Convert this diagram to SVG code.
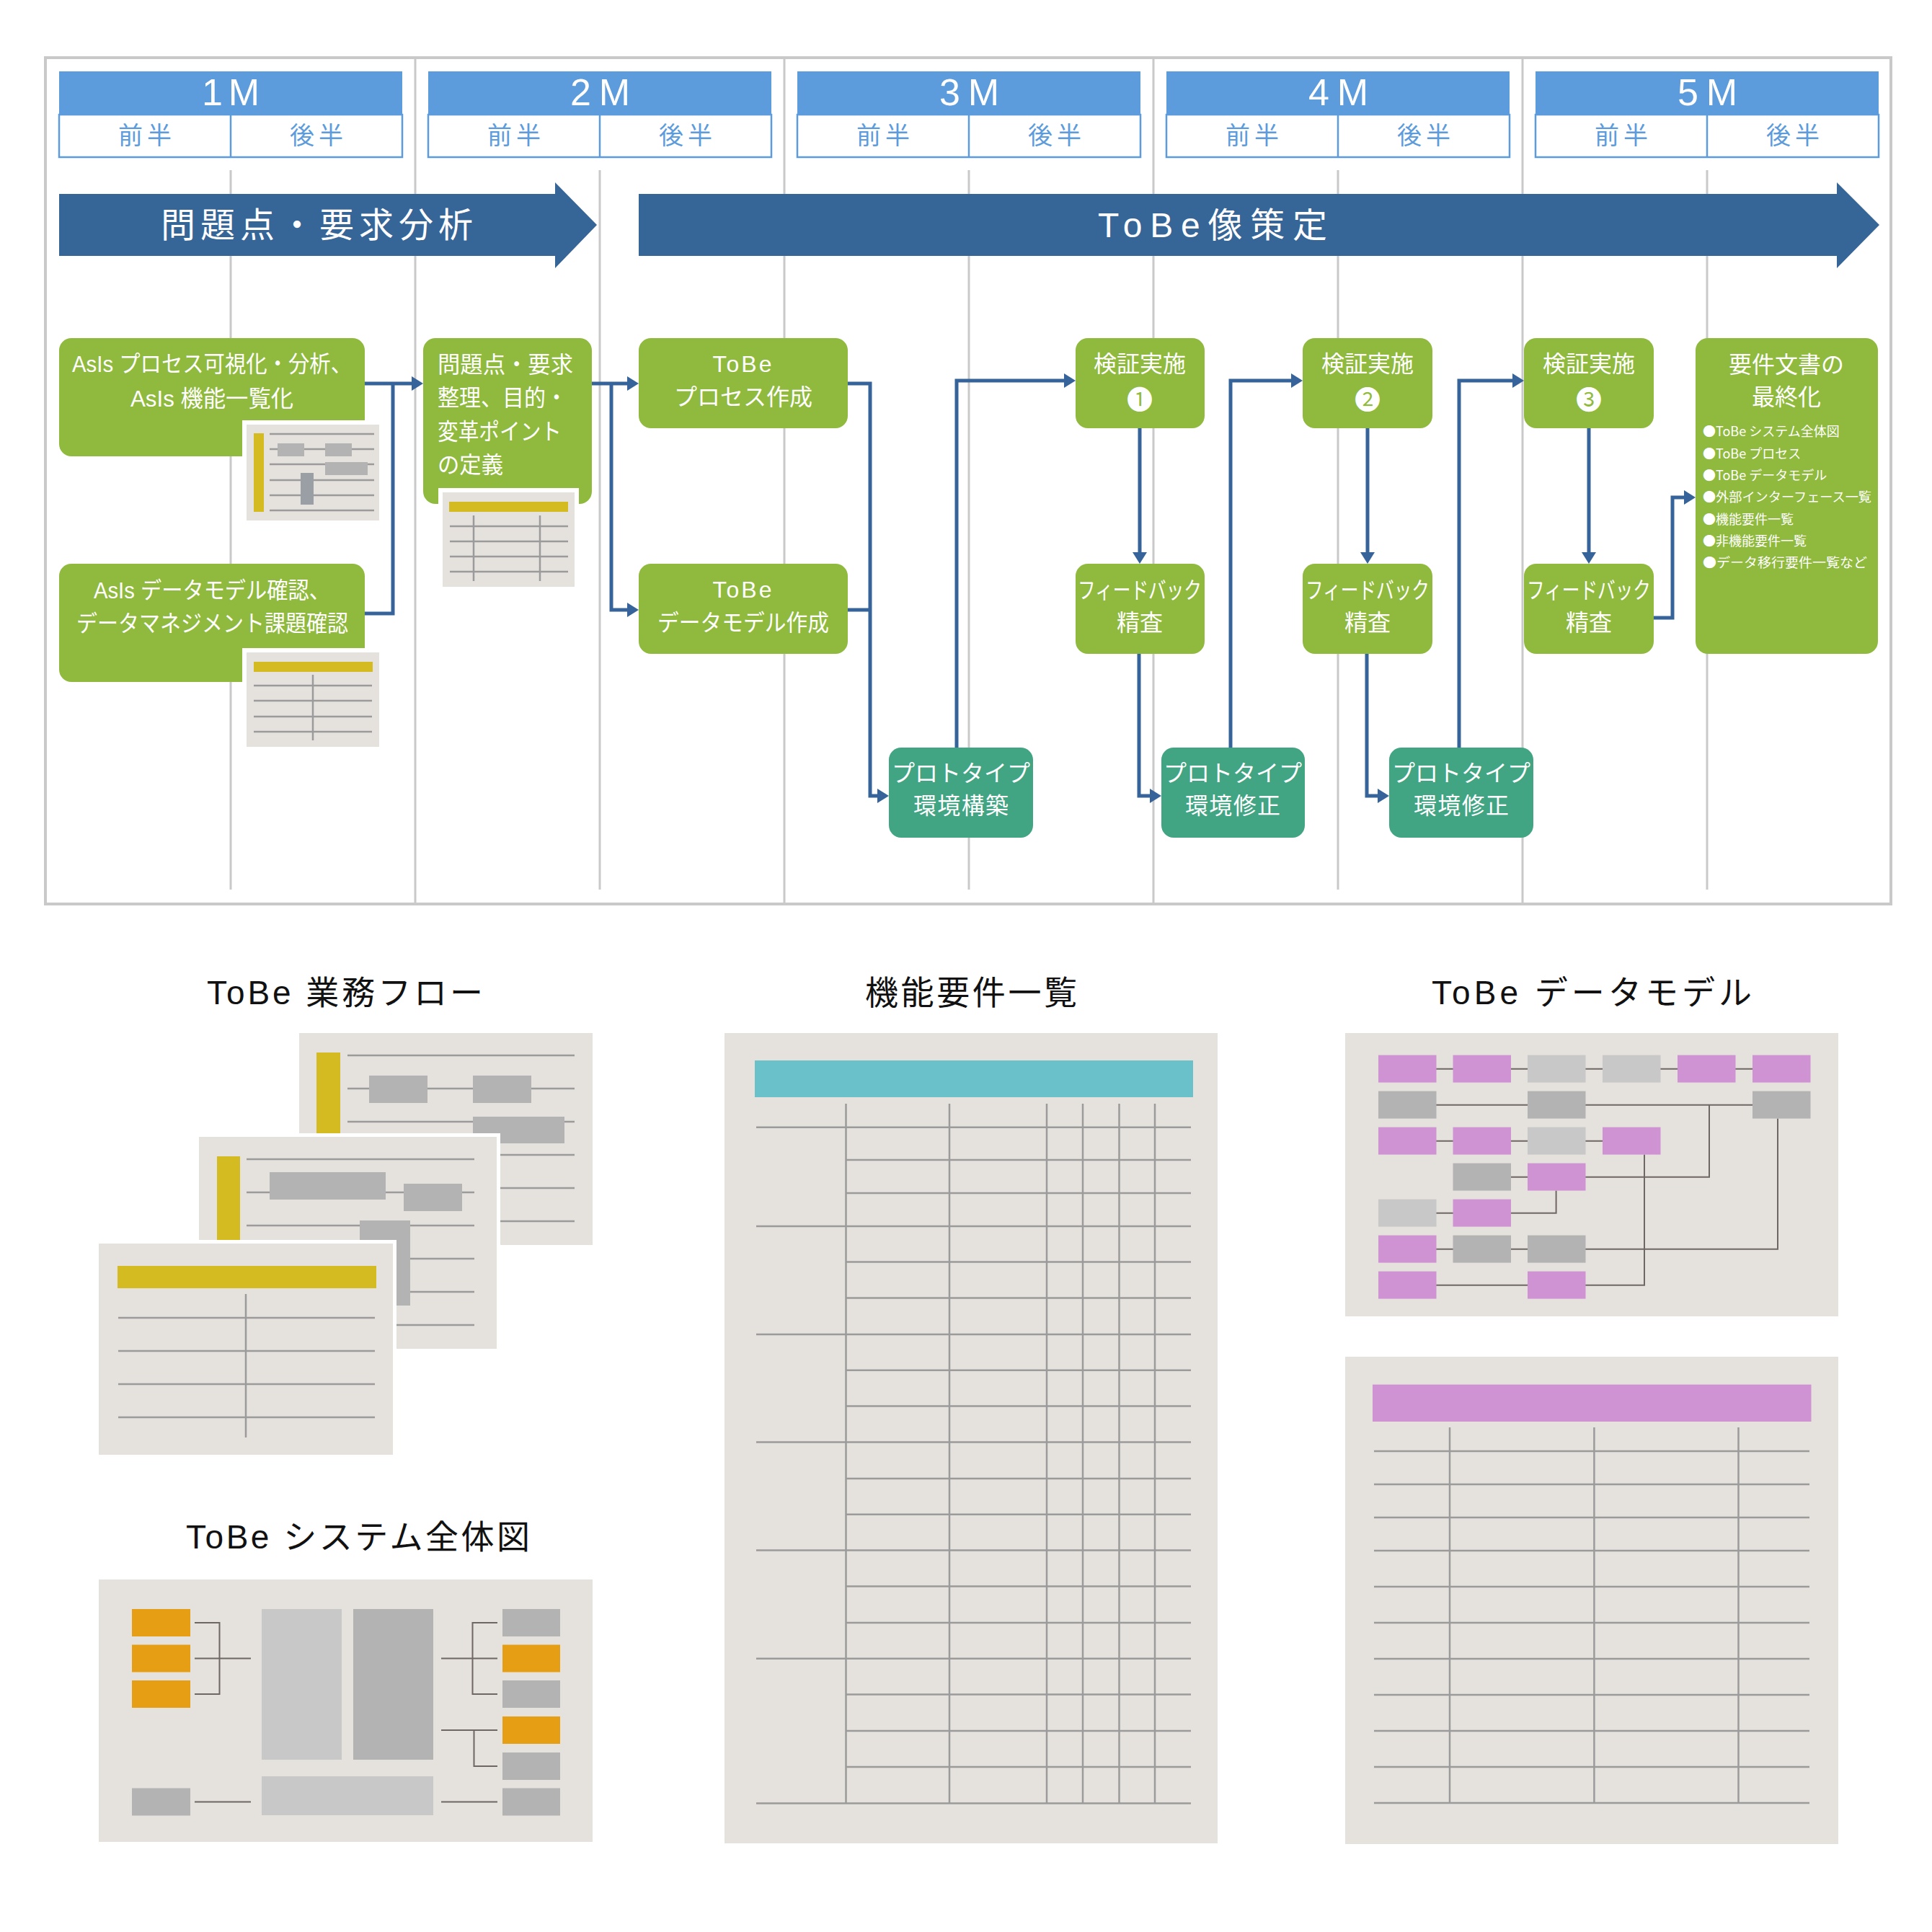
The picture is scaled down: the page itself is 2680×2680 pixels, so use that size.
<svg xmlns="http://www.w3.org/2000/svg" width="2680" height="2680" viewBox="0 0 2680 2680">
<style>
text{font-family:"Liberation Sans","Noto Sans CJK JP",sans-serif;dominant-baseline:central}
.frame{fill:none;stroke:#c9c9c9;stroke-width:4}
.vl{stroke:#c9c9c9;stroke-width:3}
.mh{fill:#5c9bdc}
.ms{fill:#fff;stroke:#5c9bdc;stroke-width:2.5}
.mt{font-size:52px;fill:#fff}
.ht{font-size:34px;fill:#5c9bdc}
.ba{fill:#366597}
.at{font-size:48px;fill:#fff}
.gn{fill:#8fba3e}
.tn{fill:#41a483}
.nt{font-size:32px;fill:#fff}
.num{font-size:36px;fill:#fff;font-family:"Noto Sans CJK JP","DejaVu Sans",sans-serif}
.bt{font-size:18px;fill:#fff;font-family:"Noto Sans CJK JP",sans-serif}
.conn{fill:none;stroke:#36649a;stroke-width:5}
.card{fill:#e5e1dd}
.wb{fill:#fff}
.tl{stroke:#9b9b9b;stroke-width:2.5;fill:none}
.yb{fill:#d4bb22}
.gb{fill:#b3b3b3}
.lg{fill:#c8c8c8}
.dg{fill:#9a9ea5}
.pk{fill:#cf93d3}
.og{fill:#e69f15}
.tc{fill:#6bc1c9}
.dl{stroke:#6f6763;stroke-width:2;fill:none}
.title{font-size:46px;fill:#111}
</style>
<defs>
<marker id="ah" markerUnits="userSpaceOnUse" viewBox="0 0 16 20" markerWidth="16" markerHeight="20" refX="0" refY="10" orient="auto">
<path d="M0,0 L16,10 L0,20 z" fill="#36649a"/>
</marker>
</defs>
<rect width="2680" height="2680" fill="#fff"/>

<g id="frame">
<rect class="frame" x="63" y="80" width="2560" height="1174"/>
<line class="vl" x1="576" y1="80" x2="576" y2="1254"/>
<line class="vl" x1="1088" y1="80" x2="1088" y2="1254"/>
<line class="vl" x1="1600" y1="80" x2="1600" y2="1254"/>
<line class="vl" x1="2112" y1="80" x2="2112" y2="1254"/>
<line class="vl" x1="320" y1="236" x2="320" y2="1234"/>
<line class="vl" x1="832" y1="236" x2="832" y2="1234"/>
<line class="vl" x1="1344" y1="236" x2="1344" y2="1234"/>
<line class="vl" x1="1856" y1="236" x2="1856" y2="1234"/>
<line class="vl" x1="2368" y1="236" x2="2368" y2="1234"/>
</g>

<g id="month1">
<rect class="mh" x="82" y="99" width="476" height="60"/>
<rect class="ms" x="82" y="159" width="476" height="59"/>
<line class="ms" x1="320" y1="159" x2="320" y2="218"/>
<text class="mt" x="280" y="128" textLength="80">1M</text>
<text class="ht" x="164" y="188" textLength="74">前半</text>
<text class="ht" x="402" y="188" textLength="74">後半</text>
</g>
<g id="month2">
<rect class="mh" x="594" y="99" width="476" height="60"/>
<rect class="ms" x="594" y="159" width="476" height="59"/>
<line class="ms" x1="832" y1="159" x2="832" y2="218"/>
<text class="mt" x="791" y="128" textLength="83">2M</text>
<text class="ht" x="676" y="188" textLength="74">前半</text>
<text class="ht" x="914" y="188" textLength="74">後半</text>
</g>
<g id="month3">
<rect class="mh" x="1106" y="99" width="476" height="60"/>
<rect class="ms" x="1106" y="159" width="476" height="59"/>
<line class="ms" x1="1344" y1="159" x2="1344" y2="218"/>
<text class="mt" x="1303" y="128" textLength="83">3M</text>
<text class="ht" x="1188" y="188" textLength="74">前半</text>
<text class="ht" x="1426" y="188" textLength="74">後半</text>
</g>
<g id="month4">
<rect class="mh" x="1618" y="99" width="476" height="60"/>
<rect class="ms" x="1618" y="159" width="476" height="59"/>
<line class="ms" x1="1856" y1="159" x2="1856" y2="218"/>
<text class="mt" x="1815" y="128" textLength="83">4M</text>
<text class="ht" x="1700" y="188" textLength="74">前半</text>
<text class="ht" x="1938" y="188" textLength="74">後半</text>
</g>
<g id="month5">
<rect class="mh" x="2130" y="99" width="476" height="60"/>
<rect class="ms" x="2130" y="159" width="476" height="59"/>
<line class="ms" x1="2368" y1="159" x2="2368" y2="218"/>
<text class="mt" x="2327" y="128" textLength="83">5M</text>
<text class="ht" x="2212" y="188" textLength="74">前半</text>
<text class="ht" x="2450" y="188" textLength="74">後半</text>
</g>

<g id="phase1">
<path class="ba" d="M82,269 H770 V253 L828,312 L770,372 V355 H82 z"/>
<text class="at" x="223" y="312" textLength="433">問題点・要求分析</text>
</g>
<g id="phase2">
<path class="ba" d="M886,269 H2548 V253 L2607,312 L2548,372 V355 H886 z"/>
<text class="at" x="1523" y="312" textLength="318">ToBe像策定</text>
</g>

<g id="connectors">
<path class="conn" d="M506,532 H571" marker-end="url(#ah)"/>
<path class="conn" d="M506,851 H545 V532"/>
<path class="conn" d="M821,532 H870" marker-end="url(#ah)"/>
<path class="conn" d="M848,532 V846 H870" marker-end="url(#ah)"/>
<path class="conn" d="M1176,532 H1207 V1104 H1217" marker-end="url(#ah)"/>
<path class="conn" d="M1176,846 H1207"/>
<path class="conn" d="M1327,1037 V528 H1476" marker-end="url(#ah)"/>
<path class="conn" d="M1581,594 V766" marker-end="url(#ah)"/>
<path class="conn" d="M1580,907 V1104 H1595" marker-end="url(#ah)"/>
<path class="conn" d="M1707,1037 V528 H1791" marker-end="url(#ah)"/>
<path class="conn" d="M1897,594 V766" marker-end="url(#ah)"/>
<path class="conn" d="M1896,907 V1104 H1911" marker-end="url(#ah)"/>
<path class="conn" d="M2024,1037 V528 H2098" marker-end="url(#ah)"/>
<path class="conn" d="M2204,594 V766" marker-end="url(#ah)"/>
<path class="conn" d="M2294,857 H2320 V690 H2336" marker-end="url(#ah)"/>
</g>

<g id="n-asis-process">
<rect class="gn" x="82" y="469" width="424" height="164" rx="17"/>
<text class="nt" x="100" y="505" font-size="30" textLength="388" lengthAdjust="spacingAndGlyphs">AsIs プロセス可視化・分析、</text>
<text class="nt" x="181" y="553" font-size="30" textLength="226" lengthAdjust="spacingAndGlyphs">AsIs 機能一覧化</text>
<rect class="wb" x="336" y="583" width="196" height="145"/>
<rect class="card" x="342" y="589" width="184" height="133"/>
<rect class="yb" x="352" y="601" width="14" height="109"/>
<path class="tl" d="M374,602 H519 M374,623 H519 M374,644 H519 M374,666 H519 M374,687 H519 M374,708 H519"/>
<rect class="gb" x="385" y="615" width="37" height="18"/>
<rect class="gb" x="451" y="615" width="37" height="18"/>
<rect class="gb" x="451" y="641" width="59" height="18"/>
<rect class="dg" x="417" y="656" width="18" height="44"/>
</g>

<g id="n-asis-data">
<rect class="gn" x="82" y="782" width="424" height="164" rx="17"/>
<text class="nt" x="130" y="819" font-size="30" textLength="328" lengthAdjust="spacingAndGlyphs">AsIs データモデル確認、</text>
<text class="nt" x="106" y="865" font-size="30" textLength="377" lengthAdjust="spacingAndGlyphs">データマネジメント課題確認</text>
<rect class="wb" x="336" y="899" width="196" height="143"/>
<rect class="card" x="342" y="905" width="184" height="131"/>
<rect class="yb" x="352" y="918" width="165" height="14"/>
<path class="tl" d="M352,951 H516 M352,972 H516 M352,994 H516 M352,1015 H516 M434,936 V1027"/>
</g>

<g id="n-issues">
<rect class="gn" x="587" y="469" width="234" height="230" rx="17"/>
<text class="nt" x="607" y="506" textLength="188" lengthAdjust="spacingAndGlyphs">問題点・要求</text>
<text class="nt" x="607" y="552" textLength="180" lengthAdjust="spacingAndGlyphs">整理、目的・</text>
<text class="nt" x="607" y="599" textLength="172" lengthAdjust="spacingAndGlyphs">変革ポイント</text>
<text class="nt" x="607" y="645" textLength="91" lengthAdjust="spacingAndGlyphs">の定義</text>
<rect class="wb" x="608" y="677" width="195" height="143"/>
<rect class="card" x="614" y="683" width="183" height="131"/>
<rect class="yb" x="623" y="696" width="165" height="14"/>
<path class="tl" d="M624,730 H788 M624,751 H788 M624,772 H788 M624,793 H788 M657,715 V806 M749,715 V806"/>
</g>

<g id="n-tobe-process">
<rect class="gn" x="886" y="469" width="290" height="125" rx="17"/>
<text class="nt" x="1031" y="505" text-anchor="middle" letter-spacing="3">ToBe</text>
<text class="nt" x="1031" y="551" text-anchor="middle">プロセス作成</text>
</g>
<g id="n-tobe-data">
<rect class="gn" x="886" y="782" width="290" height="125" rx="17"/>
<text class="nt" x="1031" y="818" text-anchor="middle" letter-spacing="3">ToBe</text>
<text class="nt" x="912" y="864" textLength="238" lengthAdjust="spacingAndGlyphs">データモデル作成</text>
</g>

<g id="n-proto1">
<rect class="tn" x="1233" y="1037" width="200" height="125" rx="17"/>
<text class="nt" x="1333" y="1073" font-size="30" text-anchor="middle">プロトタイプ</text>
<text class="nt" x="1267" y="1118" font-size="30" textLength="132">環境構築</text>
</g>
<g id="n-verify1">
<rect class="gn" x="1492" y="469" width="179" height="125" rx="17"/>
<text class="nt" x="1581" y="505" text-anchor="middle">検証実施</text>
<text class="num" x="1581" y="552" text-anchor="middle">❶</text>
</g>
<g id="n-feedback1">
<rect class="gn" x="1492" y="782" width="179" height="125" rx="17"/>
<text class="nt" x="1495" y="819" font-size="30" textLength="172" lengthAdjust="spacingAndGlyphs">フィードバック</text>
<text class="nt" x="1581" y="864" text-anchor="middle">精査</text>
</g>
<g id="n-proto2">
<rect class="tn" x="1611" y="1037" width="199" height="125" rx="17"/>
<text class="nt" x="1710" y="1073" font-size="30" text-anchor="middle">プロトタイプ</text>
<text class="nt" x="1644" y="1118" font-size="30" textLength="132">環境修正</text>
</g>
<g id="n-verify2">
<rect class="gn" x="1807" y="469" width="180" height="125" rx="17"/>
<text class="nt" x="1897" y="505" text-anchor="middle">検証実施</text>
<text class="num" x="1897" y="552" text-anchor="middle">❷</text>
</g>
<g id="n-feedback2">
<rect class="gn" x="1807" y="782" width="180" height="125" rx="17"/>
<text class="nt" x="1811" y="819" font-size="30" textLength="172" lengthAdjust="spacingAndGlyphs">フィードバック</text>
<text class="nt" x="1897" y="864" text-anchor="middle">精査</text>
</g>
<g id="n-proto3">
<rect class="tn" x="1927" y="1037" width="200" height="125" rx="17"/>
<text class="nt" x="2027" y="1073" font-size="30" text-anchor="middle">プロトタイプ</text>
<text class="nt" x="1961" y="1118" font-size="30" textLength="132">環境修正</text>
</g>
<g id="n-verify3">
<rect class="gn" x="2114" y="469" width="180" height="125" rx="17"/>
<text class="nt" x="2204" y="505" text-anchor="middle">検証実施</text>
<text class="num" x="2204" y="552" text-anchor="middle">❸</text>
</g>
<g id="n-feedback3">
<rect class="gn" x="2114" y="782" width="180" height="125" rx="17"/>
<text class="nt" x="2118" y="819" font-size="30" textLength="172" lengthAdjust="spacingAndGlyphs">フィードバック</text>
<text class="nt" x="2204" y="864" text-anchor="middle">精査</text>
</g>
<g id="n-final">
<rect class="gn" x="2352" y="469" width="253" height="438" rx="17"/>
<text class="nt" x="2478" y="506" text-anchor="middle">要件文書の</text>
<text class="nt" x="2478" y="551" text-anchor="middle">最終化</text>
<text class="bt" x="2362" y="597">●ToBe システム全体図</text>
<text class="bt" x="2362" y="628">●ToBe プロセス</text>
<text class="bt" x="2362" y="658">●ToBe データモデル</text>
<text class="bt" x="2362" y="688" textLength="234" lengthAdjust="spacingAndGlyphs">●外部インターフェース一覧</text>
<text class="bt" x="2362" y="719">●機能要件一覧</text>
<text class="bt" x="2362" y="749">●非機能要件一覧</text>
<text class="bt" x="2362" y="779" textLength="228" lengthAdjust="spacingAndGlyphs">●データ移行要件一覧など</text>
</g>

<g id="doc-flow">
<text class="title" x="287" y="1377" textLength="383">ToBe 業務フロー</text>
<rect class="card" x="415" y="1433" width="407" height="294"/>
<rect class="yb" x="439" y="1460" width="33" height="240"/>
<path class="tl" d="M482,1464 H797 M482,1510 H797 M482,1556 H797 M482,1602 H797 M482,1648 H797 M482,1694 H797"/>
<rect class="gb" x="512" y="1492" width="81" height="38"/>
<rect class="gb" x="656" y="1492" width="81" height="38"/>
<rect class="gb" x="656" y="1549" width="127" height="37"/>
<rect class="wb" x="271" y="1572" width="423" height="304"/>
<rect class="card" x="276" y="1577" width="413" height="294"/>
<rect class="yb" x="301" y="1604" width="32" height="240"/>
<path class="tl" d="M342,1608 H658 M342,1654 H658 M342,1700 H658 M342,1746 H658 M342,1792 H658 M342,1838 H658"/>
<rect class="gb" x="374" y="1626" width="161" height="38"/>
<rect class="gb" x="560" y="1642" width="81" height="38"/>
<rect class="gb" x="499" y="1693" width="70" height="118"/>
<rect class="wb" x="132" y="1720" width="418" height="303"/>
<rect class="card" x="137" y="1725" width="408" height="293"/>
<rect class="yb" x="163" y="1756" width="359" height="31"/>
<path class="tl" d="M164,1828 H520 M164,1874 H520 M164,1920 H520 M164,1966 H520 M341,1795 V1994"/>
</g>

<g id="doc-system">
<text class="title" x="258" y="2132" textLength="477">ToBe システム全体図</text>
<rect class="card" x="137" y="2191" width="685" height="364"/>
<path class="dl" d="M270,2251 H304.5 V2350 H270 M270,2300.5 H348 M612,2300.5 H690 M690,2251 H655.5 V2350 H690 M612,2400 H690 M657.5,2400 V2450 H690 M270,2499.5 H348 M612,2499.5 H690"/>
<rect class="og" x="183" y="2232" width="81" height="38"/>
<rect class="og" x="183" y="2281.5" width="81" height="38"/>
<rect class="og" x="183" y="2331" width="81" height="38"/>
<rect class="gb" x="183" y="2480.5" width="81" height="38"/>
<rect class="lg" x="363" y="2232" width="111" height="209"/>
<rect class="gb" x="490" y="2232" width="111" height="209"/>
<rect class="lg" x="363" y="2464" width="238" height="54"/>
<rect class="gb" x="697" y="2232" width="80" height="38"/>
<rect class="og" x="697" y="2281.5" width="80" height="38"/>
<rect class="gb" x="697" y="2331" width="80" height="38"/>
<rect class="og" x="697" y="2381" width="80" height="38"/>
<rect class="gb" x="697" y="2431" width="80" height="38"/>
<rect class="gb" x="697" y="2480.5" width="80" height="38"/>
</g>

<g id="doc-functions">
<text class="title" x="1200" y="1377" textLength="294">機能要件一覧</text>
<rect class="card" x="1005" y="1433" width="684" height="1124"/>
<rect class="tc" x="1047" y="1471" width="608" height="51"/>
<path class="tl" d="M1173.5,1531 V2502 M1317,1531 V2502 M1452,1531 V2502 M1502,1531 V2502 M1552.5,1531 V2502 M1602,1531 V2502"/>
<path class="tl" d="M1049,1563.7 H1652 M1173.5,1609 H1652 M1173.5,1655 H1652 M1049,1701 H1652 M1173.5,1750.6 H1652 M1173.5,1800.5 H1652 M1049,1851 H1652 M1173.5,1900.8 H1652 M1173.5,1950.6 H1652 M1049,2000.4 H1652 M1173.5,2051 H1652 M1173.5,2100.8 H1652 M1049,2150.6 H1652 M1173.5,2200.4 H1652 M1173.5,2251 H1652 M1049,2300.8 H1652 M1173.5,2350.6 H1652 M1173.5,2401 H1652 M1173.5,2451 H1652 M1049,2501.6 H1652"/>
</g>

<g id="doc-datamodel">
<text class="title" x="1986" y="1377" textLength="444">ToBe データモデル</text>
<rect class="card" x="1866" y="1433" width="684" height="393"/>
<path class="dl" d="M1992,1482.7 H2431 M1992,1532.7 H2431 M1992,1582.7 H2223 M2096,1632.7 H2371 V1532.7 M1992,1682.7 H2158.6 V1651.6 M1992,1732.7 H2466 V1551.6 M1992,1782.7 H2281 V1601.6"/>
<rect class="pk" x="1912" y="1463.6" width="80.5" height="38"/>
<rect class="pk" x="2015.5" y="1463.6" width="80.5" height="38"/>
<rect class="lg" x="2119" y="1463.6" width="80.5" height="38"/>
<rect class="lg" x="2223" y="1463.6" width="80.5" height="38"/>
<rect class="pk" x="2327" y="1463.6" width="80.5" height="38"/>
<rect class="pk" x="2431" y="1463.6" width="80.5" height="38"/>
<rect class="gb" x="1912" y="1513.6" width="80.5" height="38"/>
<rect class="gb" x="2119" y="1513.6" width="80.5" height="38"/>
<rect class="gb" x="2431" y="1513.6" width="80.5" height="38"/>
<rect class="pk" x="1912" y="1563.6" width="80.5" height="38"/>
<rect class="pk" x="2015.5" y="1563.6" width="80.5" height="38"/>
<rect class="lg" x="2119" y="1563.6" width="80.5" height="38"/>
<rect class="pk" x="2223" y="1563.6" width="80.5" height="38"/>
<rect class="gb" x="2015.5" y="1613.6" width="80.5" height="38"/>
<rect class="pk" x="2119" y="1613.6" width="80.5" height="38"/>
<rect class="lg" x="1912" y="1663.6" width="80.5" height="38"/>
<rect class="pk" x="2015.5" y="1663.6" width="80.5" height="38"/>
<rect class="pk" x="1912" y="1713.6" width="80.5" height="38"/>
<rect class="gb" x="2015.5" y="1713.6" width="80.5" height="38"/>
<rect class="gb" x="2119" y="1713.6" width="80.5" height="38"/>
<rect class="pk" x="1912" y="1763.6" width="80.5" height="38"/>
<rect class="pk" x="2119" y="1763.6" width="80.5" height="38"/>
</g>

<g id="doc-table">
<rect class="card" x="1866" y="1882" width="684" height="676"/>
<rect class="pk" x="1904" y="1920.6" width="608.5" height="51.4"/>
<path class="tl" d="M2011,1980 V2501 M2211.4,1980 V2501 M2411.5,1980 V2501"/>
<path class="tl" d="M1906,2013 H2510 M1906,2059 H2510 M1906,2105 H2510 M1906,2151 H2510 M1906,2201 H2510 M1906,2251 H2510 M1906,2301 H2510 M1906,2351 H2510 M1906,2401 H2510 M1906,2451 H2510 M1906,2501 H2510"/>
</g>
</svg>
